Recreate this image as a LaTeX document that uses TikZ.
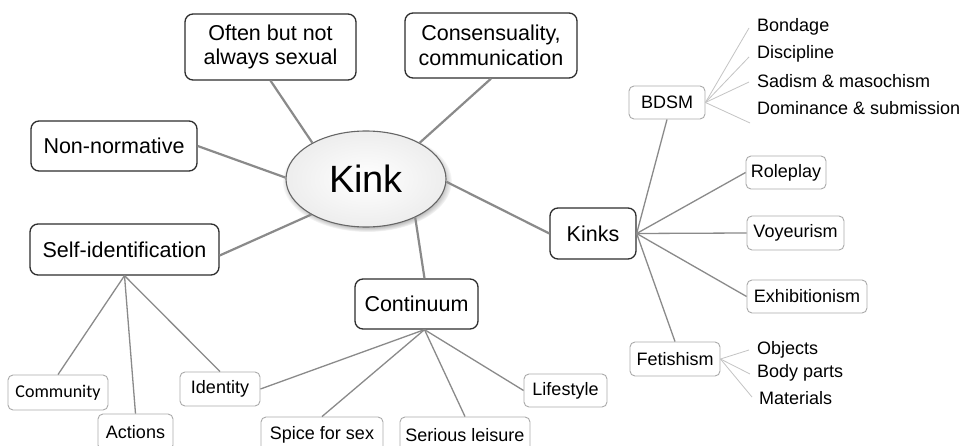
\documentclass[tikz,border=0pt]{standalone}
\usepackage{fontspec}
\setmainfont{Liberation Sans}
\newfontfamily\carl{Carlito}
\usetikzlibrary{shapes.geometric,shadows,calc}
\definecolor{edgegray}{HTML}{8A8A8A}
\definecolor{boxline}{HTML}{2E2E2E}
\definecolor{lightline}{HTML}{AAAAAA}
\definecolor{faint}{HTML}{C4C4C4}
\begin{document}
\begin{tikzpicture}[x=1pt,y=-1pt,
  mainbox/.style={draw=boxline, line width=1.3pt, rounded corners=8pt, fill=white, align=center,
     font=\fontsize{21.5}{24.5}\selectfont, inner sep=0pt},
  subbox/.style={draw=lightline, line width=0.9pt, rounded corners=5pt, fill=white, align=center,
     font=\fontsize{18}{20}\selectfont, inner sep=0pt},
  leaf/.style={anchor=west, inner sep=0pt, font=\fontsize{18}{20}\selectfont},
  mainedge/.style={draw=edgegray, line width=2.2pt},
  subedge/.style={draw=edgegray, line width=1.3pt},
  thinedge/.style={draw=faint, line width=0.8pt}]
\useasboundingbox (0,0) rectangle (963,446);
\clip (0,0) rectangle (963,446);
\fill[white] (0,0) rectangle (963,446);

% main nodes
\node[mainbox, minimum width=171, minimum height=66] (often) at (270.5,47) {Often but not\\always sexual};
\node[mainbox, minimum width=172, minimum height=65] (cons) at (491,45.5) {Consensuality,\\communication};
\node[mainbox, minimum width=166, minimum height=50] (nonnorm) at (114,146) {Non-normative};
\node[mainbox, minimum width=189, minimum height=51] (selfid) at (124.5,249.5) {Self-identification};
\node[mainbox, minimum width=123, minimum height=50] (cont) at (416.5,304) {Continuum};
\node[mainbox, minimum width=86, minimum height=51] (kinks) at (593,233.5) {Kinks};

% kink ellipse
\node[ellipse, draw=gray!80!black, line width=1.1pt, inner color=white, outer color=gray!14,
  minimum width=160, minimum height=96, inner sep=0pt,
  circular drop shadow={shadow xshift=1pt, shadow yshift=-2pt, shadow scale=1.06, fill=gray!80},
  font=\fontsize{38}{40}\selectfont] (kink) at (366,179) {Kink};

% sub nodes
\node[subbox, minimum width=76, minimum height=33] (bdsm) at (667,102.5) {BDSM};
\node[subbox, minimum width=80, minimum height=33] (role) at (786,172.5) {Roleplay};
\node[subbox, minimum width=97, minimum height=34] (voy) at (795.5,233) {Voyeurism};
\node[subbox, minimum width=120, minimum height=33] (exhib) at (807,296.5) {Exhibitionism};
\node[subbox, minimum width=90, minimum height=34] (fet) at (675,359) {Fetishism};
\node[subbox, minimum width=100, minimum height=35, font=\carl\fontsize{18}{20}\selectfont] (comm) at (58,392.5) {Community};
\node[subbox, minimum width=75, minimum height=36] (act) at (135.5,432) {Actions};
\node[subbox, minimum width=80, minimum height=34] (ident) at (220,389) {Identity};
\node[subbox, minimum width=122, minimum height=36] (spice) at (322,435) {Spice for sex};
\node[subbox, minimum width=130, minimum height=36] (serious) at (465,435) {Serious leisure};
\node[subbox, minimum width=83, minimum height=33] (life) at (565.5,390.5) {Lifestyle};

% leaf texts
\node[leaf] (bond) at (757,27) {Bondage};
\node[leaf] (disc) at (757,54) {Discipline};
\node[leaf] (sad) at (757,81) {Sadism \& masochism};
\node[leaf] (dom) at (757,108) {Dominance \& submission};
\node[leaf] (obj) at (757,350) {Objects};
\node[leaf] (body) at (757,373) {Body parts};
\node[leaf] (mat) at (759,398) {Materials};

% main edges
\draw[mainedge] (often.south) -- (kink.146);
\draw[mainedge] (cons.south) -- (kink.34);
\draw[mainedge] (nonnorm.east) -- (kink.179);
\draw[mainedge] ([yshift=-6pt]selfid.east) -- (kink.213);
\draw[mainedge] ([xshift=8pt]cont.north) -- (kink.322);
\draw[mainedge] (kinks.west) -- (kink.358);

% sub edges
\draw[subedge] (selfid.south) -- (comm.north);
\draw[subedge] (selfid.south) -- (act.north);
\draw[subedge] (selfid.south) -- (ident.north);
\draw[subedge] ([xshift=8pt]cont.south) -- (ident.east);
\draw[subedge] ([xshift=8pt]cont.south) -- (spice.north);
\draw[subedge] ([xshift=8pt]cont.south) -- (serious.north);
\draw[subedge] ([xshift=8pt]cont.south) -- (life.west);
\draw[subedge] (kinks.east) -- (bdsm.south);
\draw[subedge] (kinks.east) -- (role.west);
\draw[subedge] (kinks.east) -- (voy.west);
\draw[subedge] (kinks.east) -- (exhib.west);
\draw[subedge] (kinks.east) -- (fet.north);

% leaf edges
\draw[thinedge] (bdsm.east) -- ([xshift=-8pt,yshift=-1pt]bond.west);
\draw[thinedge] (bdsm.east) -- ([xshift=-8pt,yshift=-3pt]disc.west);
\draw[thinedge] (bdsm.east) -- ([xshift=-8pt,yshift=-1pt]sad.west);
\draw[thinedge] (bdsm.east) -- ([xshift=-7pt,yshift=-15pt]dom.west);
\draw[thinedge] (fet.east) -- ([xshift=-8pt]obj.west);
\draw[thinedge] (fet.east) -- ([xshift=-7pt,yshift=-1pt]body.west);
\draw[thinedge] (fet.east) -- ([xshift=-7pt,yshift=1pt]mat.west);
\end{tikzpicture}
\end{document}
